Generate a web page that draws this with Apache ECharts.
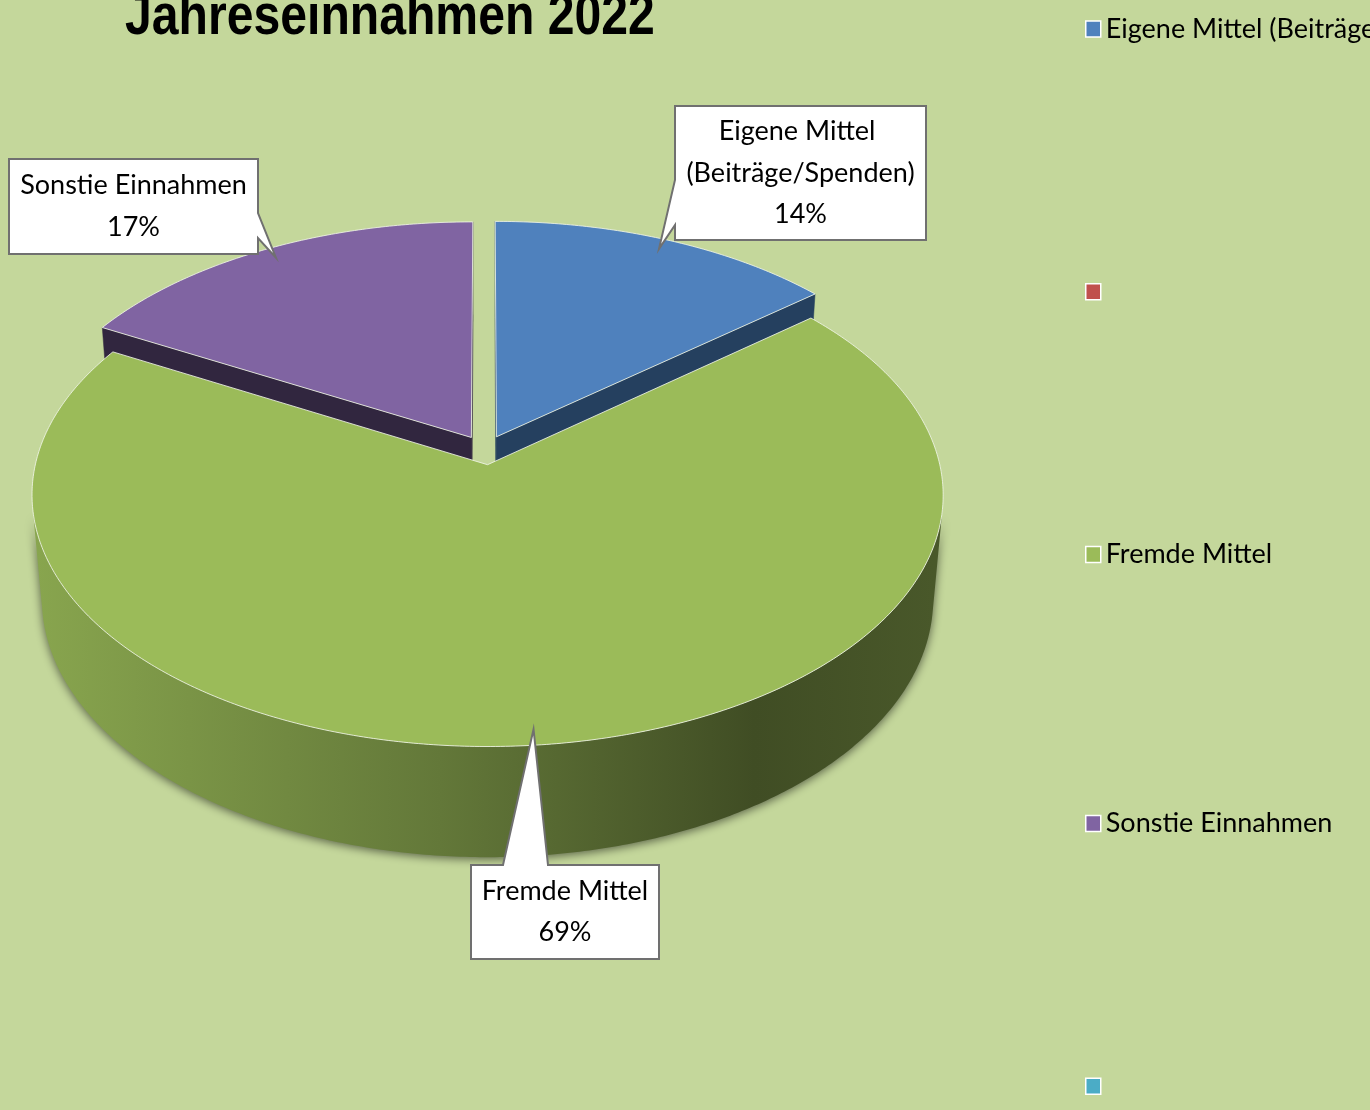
<!DOCTYPE html>
<html>
<head>
<meta charset="utf-8">
<title>Jahreseinnahmen 2022</title>
<script src="https://cdn.jsdelivr.net/npm/echarts@6/dist/echarts.min.js"></script>
<style>
    html, body { margin: 0; padding: 0; background: #c4d79b; }
    #chart { width: 1370px; height: 1110px; }
</style>
</head>
<body>
<div id="chart"></div>
<script>
// data
const categories = ['Eigene Mittel (Beiträge/Spenden)', '', 'Fremde Mittel', 'Sonstie Einnahmen', ''];
const values = [14, 0, 69, 17, 0];
const colors = ['#4f81bd', '#c0504d', '#9bbb59', '#8064a2', '#4bacc6'];
const cutColors = ['#25405f', '#632523', '#4f6228', '#31263f', '#215968'];

// 3d view of the pie (perspective, tilted)
const view = { cx: 485, cy: 450, k: 449, sinPhi: 0.544, dist: 7, height: 0.28, explode: 0.06 };
const cosPhi = Math.sqrt(1 - view.sinPhi * view.sinPhi);

// callout boxes: [x, y, w, h], side of the pointer, pointer base along that side
const callouts = [
    { box: [675, 106, 251, 134], side: 'left', base: [74, 119] },
    null,
    { box: [471, 865, 188, 94], side: 'top', base: [32, 77] },
    { box: [9, 159, 249, 95], side: 'right', base: [54, 79] },
    null
];

const total = values.reduce((a, b) => a + b, 0);
const font = "Lato, 'Open Sans', sans-serif";

function proj(X, Y, Z) {
    const u = Y * cosPhi + Z * view.sinPhi;
    const d = Z * cosPhi - Y * view.sinPhi;
    const s = view.dist / (view.dist + d);
    return [view.cx + X * view.k * s, view.cy - u * view.k * s];
}

function shade(hex, f) {
    const n = parseInt(hex.slice(1), 16);
    const r = Math.round(((n >> 16) & 255) * f);
    const g = Math.round(((n >> 8) & 255) * f);
    const b = Math.round((n & 255) * f);
    return 'rgb(' + r + ',' + g + ',' + b + ')';
}

function area(pts) {
    let s = 0;
    for (let i = 0; i < pts.length; i++) {
        const p = pts[i], q = pts[(i + 1) % pts.length];
        s += p[0] * q[1] - q[0] * p[1];
    }
    return s;
}

function renderSlice(i) {
    const v = values[i];
    if (!v) return { type: 'group', children: [] };
    let cum = 0;
    for (let j = 0; j < i; j++) cum += values[j];
    const a = cum / total * Math.PI * 2;
    const b = (cum + v) / total * Math.PI * 2;
    const m = (a + b) / 2;
    const ox = Math.sin(m) * view.explode;
    const oz = Math.cos(m) * view.explode;
    const h = view.height;
    const children = [];

    const steps = Math.max(8, Math.ceil((b - a) / 0.01));
    const angles = [];
    for (let s = 0; s <= steps; s++) angles.push(a + (b - a) * s / steps);

    // top face
    const top = [proj(ox, 0, oz)];
    angles.forEach(t => top.push(proj(ox + Math.sin(t), 0, oz + Math.cos(t))));
    children.push({
        type: 'polygon', z2: 5,
        shape: { points: top },
        style: { fill: colors[i], stroke: 'rgba(240,245,230,0.85)', lineWidth: 1 }
    });

    // outer wall, only the parts facing the camera
    const camZ = -view.dist * cosPhi;
    const runs = [];
    let run = null;
    angles.forEach(t => {
        const vis = (-ox - Math.sin(t)) * Math.sin(t) + (camZ - oz - Math.cos(t)) * Math.cos(t) > 0;
        if (vis) {
            if (!run) { run = []; runs.push(run); }
            run.push(t);
        } else run = null;
    });
    const wallFill = new echarts.graphic.LinearGradient(view.cx - view.k, 0, view.cx + view.k, 0, [
        { offset: 0, color: shade(colors[i], 0.88) },
        { offset: 0.45, color: shade(colors[i], 0.64) },
        { offset: 0.8, color: shade(colors[i], 0.41) },
        { offset: 1, color: shade(colors[i], 0.47) }
    ], true);
    runs.forEach(r => {
        if (r.length < 2) return;
        const pts = r.map(t => proj(ox + Math.sin(t), 0, oz + Math.cos(t)));
        r.slice().reverse().forEach(t => pts.push(proj(ox + Math.sin(t), -h, oz + Math.cos(t))));
        children.push({
            type: 'polygon', z2: 1,
            shape: { points: pts },
            style: { fill: wallFill, shadowBlur: 10, shadowColor: 'rgba(0,0,0,0.55)', shadowOffsetY: 2 }
        });
    });

    // cut faces
    [[a, -1], [b, 1]].forEach(([t, sign]) => {
        const q = [
            proj(ox, 0, oz),
            proj(ox + Math.sin(t), 0, oz + Math.cos(t)),
            proj(ox + Math.sin(t), -h, oz + Math.cos(t)),
            proj(ox, -h, oz)
        ];
        if (area(q) * sign > 0) {
            children.push({
                type: 'polygon', z2: 2,
                shape: { points: q },
                style: { fill: cutColors[i], stroke: cutColors[i], lineWidth: 0.5 }
            });
        }
    });

    // callout
    const c = callouts[i];
    if (c) {
        const [x, y, w, hh] = c.box;
        const r = 0.95;
        const tip = proj(ox + Math.sin(m) * r, 0, oz + Math.cos(m) * r);
        let pts;
        if (c.side === 'top') {
            pts = [[x, y], [x + c.base[0], y], tip, [x + c.base[1], y], [x + w, y], [x + w, y + hh], [x, y + hh]];
        } else if (c.side === 'right') {
            pts = [[x, y], [x + w, y], [x + w, y + c.base[0]], tip, [x + w, y + c.base[1]], [x + w, y + hh], [x, y + hh]];
        } else {
            pts = [[x, y], [x + w, y], [x + w, y + hh], [x, y + hh], [x, y + c.base[1]], tip, [x, y + c.base[0]]];
        }
        children.push({
            type: 'polygon', z2: 10,
            shape: { points: pts },
            style: { fill: '#fff', stroke: '#707070', lineWidth: 2 }
        });
        children.push({
            type: 'text', z2: 11,
            style: {
                text: categories[i] + '\n' + Math.round(v / total * 100) + '%',
                x: x + w / 2, y: y + hh / 2,
                align: 'center', verticalAlign: 'middle',
                width: w + 30, overflow: 'break',
                fontFamily: font, fontSize: 27, lineHeight: 41.5,
                fill: '#000'
            }
        });
    }
    return { type: 'group', children: children };
}

const seriesNames = categories.map((c, i) => c || ('~leer' + i));

const myChart = echarts.init(document.getElementById('chart'));
const option = {
    backgroundColor: '#c4d79b',
    animation: false,
    graphic: [{
        type: 'text',
        x: 125,
        y: -11,
        scaleX: 0.83,
        style: {
            text: 'Jahreseinnahmen 2022',
            fontFamily: "'Liberation Sans', Arial, sans-serif",
            fontWeight: 'bold',
            fontSize: 58,
            lineHeight: 58,
            verticalAlign: 'top',
            fill: '#000'
        }
    }],
    legend: {
        orient: 'vertical',
        left: 1085,
        top: 14,
        padding: 0,
        icon: 'rect',
        itemWidth: 15,
        itemHeight: 16,
        itemGap: 239,
        itemStyle: { borderColor: '#fff', borderWidth: 1.5 },
        textStyle: { fontFamily: font, fontSize: 27, lineHeight: 30, color: '#000' },
        formatter: name => name.startsWith('~') ? '' : name,
        data: seriesNames
    },
    series: seriesNames.map((name, i) => ({
        type: 'custom',
        name: name,
        coordinateSystem: 'none',
        itemStyle: { color: colors[i] },
        data: [[values[i]]],
        renderItem: () => renderSlice(i)
    }))
};
myChart.setOption(option);
</script>
</body>
</html>
